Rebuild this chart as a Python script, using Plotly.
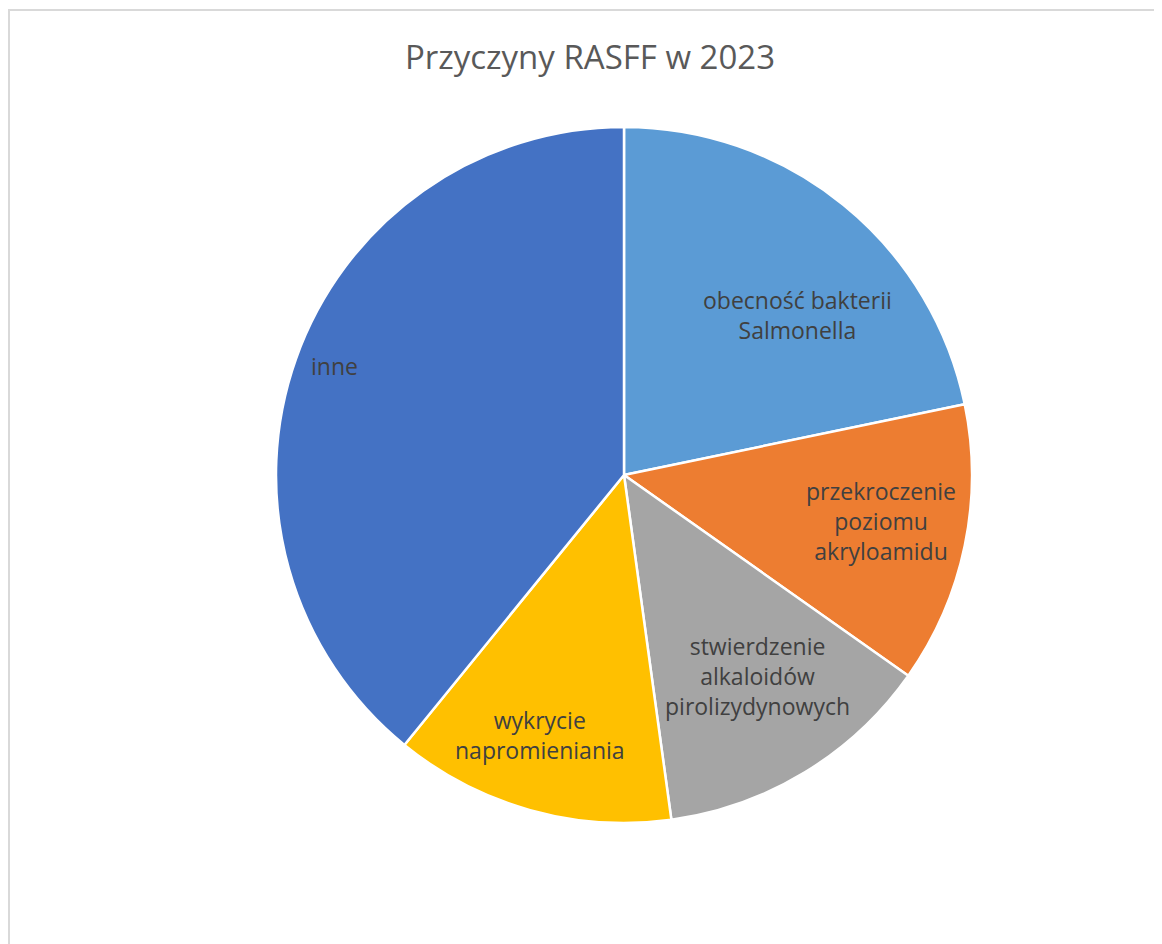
import plotly.graph_objects as go

labels = [
    "obecność bakterii Salmonella",
    "przekroczenie poziomu akryloamidu",
    "stwierdzenie alkaloidów pirolizydynowych",
    "wykrycie napromieniania",
    "inne",
]
label_text = [
    "obecność bakterii<br>Salmonella",
    "przekroczenie<br>poziomu<br>akryloamidu",
    "stwierdzenie<br>alkaloidów<br>pirolizydynowych",
    "wykrycie<br>napromieniania",
    "inne",
]
values = [5, 3, 3, 3, 9]
colors = ["#5B9BD5", "#ED7D31", "#A5A5A5", "#FFC000", "#4472C4"]

# page body adds an 8px offset, so the figure is laid out in page coords - 8
OFF = 8
W, H = 1162 - OFF, 944 - OFF
L, T = 276 - OFF, 127 - OFF
pw = ph = 696
R, B = W - L - pw, H - T - ph

# label centres (page pixels), Excel "best fit" placement
label_px = [(797, 315), (881, 521), (757, 676), (540, 735), (334, 366)]

fig = go.Figure(go.Pie(
    labels=labels,
    values=values,
    sort=False,
    direction="clockwise",
    rotation=0,
    marker=dict(colors=colors, line=dict(color="white", width=2.5)),
    textinfo="none",
    hoverinfo="label+value+percent",
    showlegend=False,
))

for txt, (px, py) in zip(label_text, label_px):
    fig.add_annotation(
        x=(px - OFF - L) / pw, y=1 - (py - OFF - T) / ph,
        xref="paper", yref="paper",
        text=txt, showarrow=False,
        font=dict(family="Open Sans", size=23, color="#404040"),
        align="center", xanchor="center", yanchor="middle",
    )

# chart area frame (left edge kept just inside the figure)
fig.add_shape(
    type="rect", xref="paper", yref="paper",
    x0=(1 - L) / pw, x1=(W + 20 - L) / pw,
    y0=1 - (H + 20 - T) / ph, y1=1 - (10 - OFF - T) / ph,
    line=dict(color="#D9D9D9", width=2),
    fillcolor="rgba(0,0,0,0)", layer="below",
)

fig.update_layout(
    width=W, height=H,
    margin=dict(l=L, r=R, t=T, b=B),
    paper_bgcolor="white",
    title=dict(
        text="Przyczyny RASFF w 2023",
        x=(590 - OFF) / W, xanchor="center",
        y=1 - (57 - OFF) / H, yanchor="middle",
        xref="container", yref="container",
        font=dict(family="Open Sans", size=33, color="#595959"),
    ),
)

fig.write_html("out.html")
